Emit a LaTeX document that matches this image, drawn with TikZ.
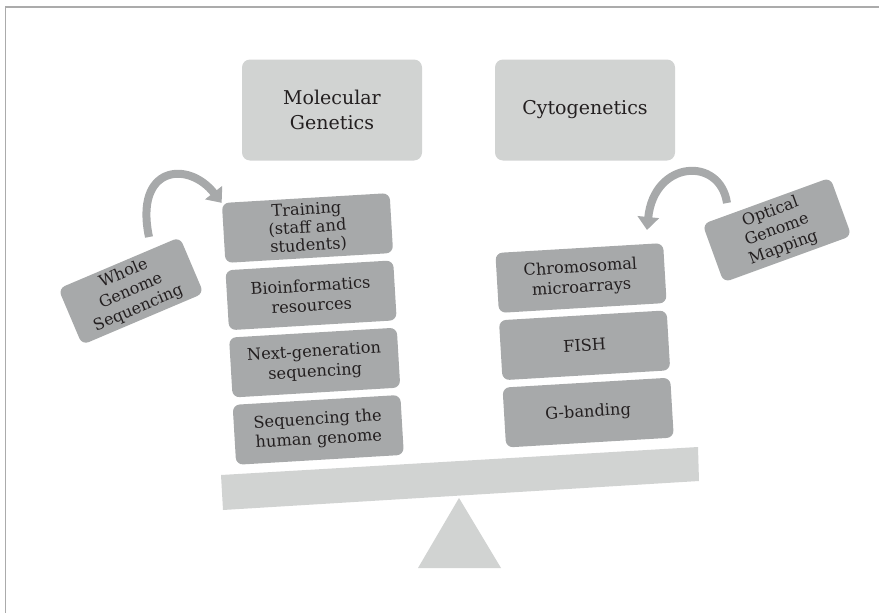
\documentclass[tikz,border=0pt]{standalone}
\usepackage{fontspec}
\setmainfont{DejaVu Serif}
\usetikzlibrary{positioning,arrows.meta}
\definecolor{lightbox}{HTML}{D1D3D2}
\definecolor{darkbox}{HTML}{A7A9AA}
\definecolor{framegray}{HTML}{ABABAB}
\definecolor{inktext}{HTML}{231F20}
\begin{document}
\begin{tikzpicture}[x=1pt,y=-1pt,
	topbox/.style={fill=lightbox,rounded corners=8pt,minimum width=180pt,minimum height=101pt,align=center,text=inktext,font=\fontsize{19}{24.5}\selectfont},
	stackbox/.style={fill=darkbox,rounded corners=7pt,minimum width=168pt,minimum height=60pt,inner sep=1pt,align=center,text=inktext,rotate=3.4,font=\fontsize{16.2}{20}\selectfont},
	sidebox/.style={fill=darkbox,rounded corners=7pt,inner sep=1pt,align=center,text=inktext,font=\fontsize{16}{19}\selectfont},
	bendarrow/.style={draw=darkbox,line width=8pt,-{Triangle[width=21pt,length=13pt]}}]
					\useasboundingbox (0,0) rectangle (879,613);
					\draw [framegray,line width=1.3pt](5.5,613) -- (5.5,7) -- (879,7);
					\node [topbox] (molgen) at (332,110) {Molecular\\Genetics};
					\node [topbox] (cytogen) at (585,110) {Cytogenetics};
					
					\node [stackbox,font=\fontsize{16.2}{18}\selectfont] (train) at (307.5,228) {Training\\(staff and\\students)};
					\node [stackbox,below=7pt of train] (bioinf) {Bioinformatics\\resources};
					\node [stackbox,below=7pt of bioinf] (ngs) {Next-generation\\sequencing};
					\node [stackbox,below=7pt of ngs] (seqhg) {Sequencing the\\human genome};
					
					\node [stackbox] (chromo) at (581,278) {Chromosomal\\microarrays};
					\node [stackbox,below=7pt of chromo] (fish) {FISH};
					\node [stackbox,below=7pt of fish] (gband) {G-banding};
					
					\node [sidebox,rotate=23,minimum width=132pt,minimum height=61pt] (wgs) at (131,291) {Whole\\Genome\\Sequencing};
					\node [sidebox,rotate=20,minimum width=136pt,minimum height=62pt] (ogm) at (777,230) {Optical\\Genome\\Mapping};
					
					\coordinate (wgstail) at (149,237);
					\coordinate (ogmtail) at (727,203);
					\coordinate (cmtip) at (647,230);
					\draw [bendarrow] (wgstail) .. controls (134,166) and (188,160) .. (train.north west);
					\draw [bendarrow] (ogmtail) .. controls (720,156) and (654,160) .. (cmtip);
					
					\fill [lightbox](221,475) -- (698,447) -- (699,481) -- (223,510) -- cycle;
					\fill [lightbox](459,498) -- (418,568) -- (501,568) -- cycle;
				\end{tikzpicture}
\end{document}
